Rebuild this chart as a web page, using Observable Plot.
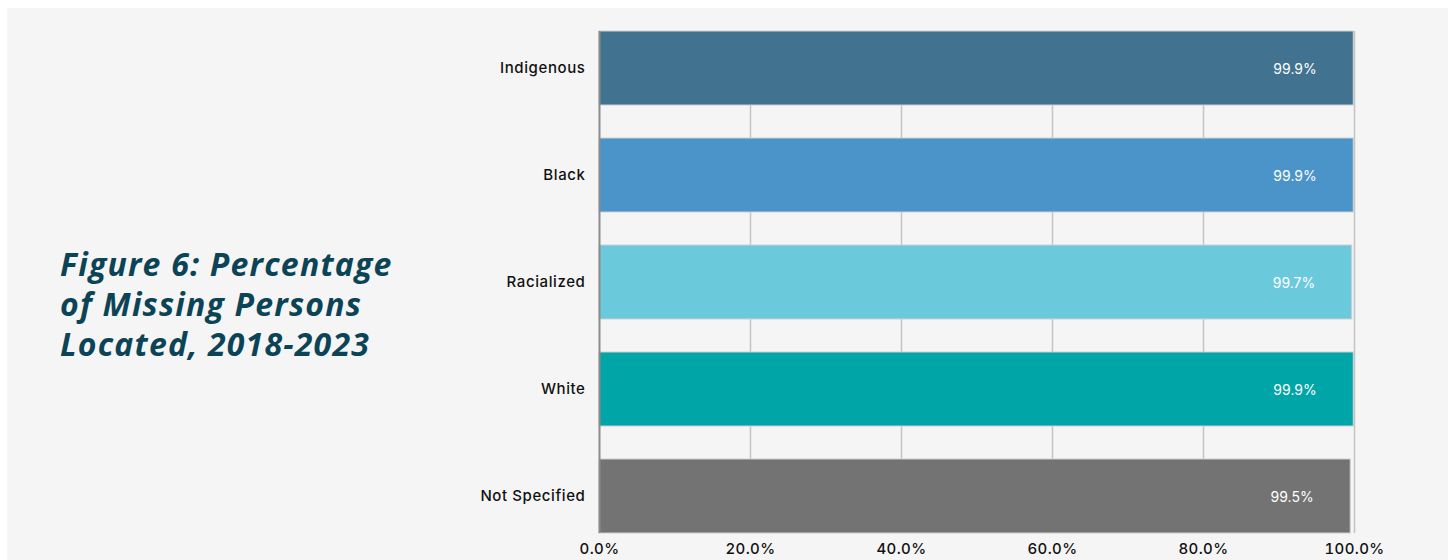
<!DOCTYPE html>
<html>
<head>
<meta charset="utf-8">
<script src="https://cdn.jsdelivr.net/npm/d3@7"></script>
<script src="https://cdn.jsdelivr.net/npm/@observablehq/plot@0.6"></script>
<style>
  html, body { margin: 0; padding: 0; background: #ffffff; }
  #panel { position: absolute; left: 7px; top: 8px; width: 1441px; height: 552px; background: #f5f5f5; overflow: hidden; }
  #title { position: absolute; left: 53px; top: 236px; font-family: "Open Sans", sans-serif; font-weight: 700; font-style: italic; font-size: 32px; line-height: 40px; letter-spacing: 1.2px; color: #0c4457; margin: 0; }
  #chart { position: absolute; left: 0; top: 0; }
  #chart [aria-label="y-axis tick label"] text { letter-spacing: 0.6px; font-weight: 500; }
  #chart [aria-label="x-axis tick label"] text { letter-spacing: 0.4px; font-weight: 500; }
</style>
</head>
<body>
<div id="panel">
  <div id="title">Figure 6: Percentage<br>of Missing Persons<br>Located, 2018-2023</div>
  <div id="chart"></div>
</div>
<script>
const categories = ["Indigenous", "Black", "Racialized", "White", "Not Specified"];
const values = [99.9, 99.9, 99.7, 99.9, 99.5];
const colors = ["#41728f", "#4a94c9", "#6bc9dc", "#00a5a8", "#737373"];
const xTicks = [0, 20, 40, 60, 80, 100];

const data = categories.map((c, i) => ({category: c, value: values[i], color: colors[i]}));

const chart = Plot.plot({
  width: 1441,
  height: 552,
  marginLeft: 592,
  marginRight: 94,
  marginTop: 23,
  marginBottom: 27,
  style: {background: "transparent", fontFamily: "Inter, 'Open Sans', sans-serif", fontSize: "15px", color: "#111111"},
  x: {domain: [0, 100], ticks: xTicks, tickFormat: d => d.toFixed(1) + "%", tickSize: 0, tickPadding: 10, label: null},
  y: {domain: categories, paddingInner: 0.31, paddingOuter: 0, tickSize: 0, tickPadding: 14, label: null},
  marks: [
    Plot.ruleX(xTicks.filter(d => d > 0), {stroke: "#c4c4c4", strokeWidth: 1.5}),
    Plot.barX(data, {y: "category", x: "value", fill: "color", stroke: "#cfcfcf", strokeWidth: 1}),
    Plot.ruleX([0], {stroke: "#8c8c8c", strokeWidth: 2}),
    Plot.text(data, {y: "category", x: "value", text: d => d.value.toFixed(1) + "%", textAnchor: "end", dx: -37, dy: 1, fill: "#ffffff", fontSize: 14})
  ]
});
document.getElementById("chart").appendChild(chart);
</script>
</body>
</html>
